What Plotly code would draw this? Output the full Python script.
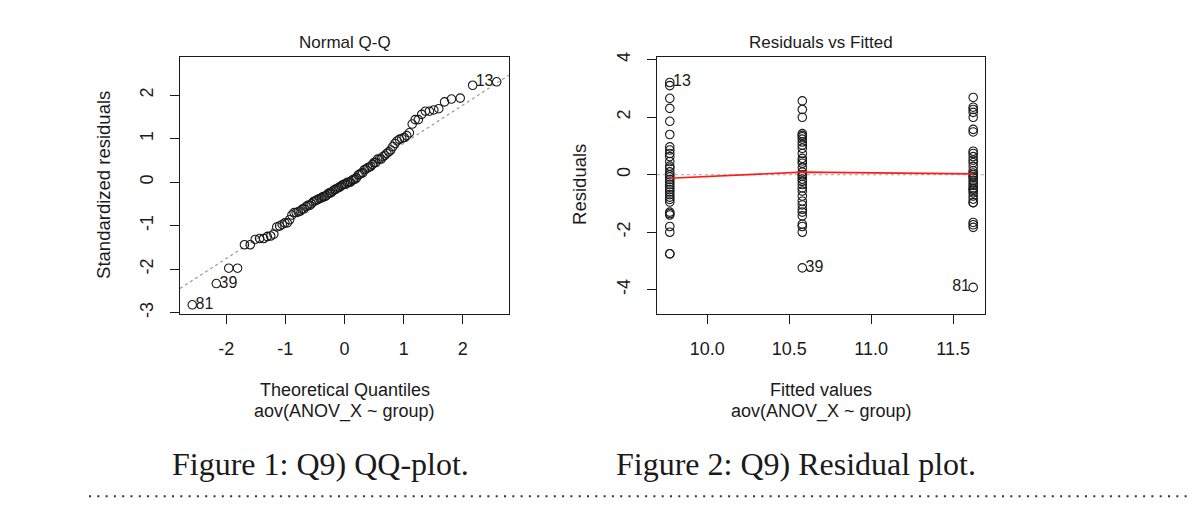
import numpy as np
import plotly.graph_objects as go
from statistics import NormalDist

# ---------------- data ----------------
fitted_levels = [9.772, 10.58, 11.622]          # group means (fitted values)
group_ids = ["13", "39", "81"]                   # labels of the extreme obs in each group

resid_g1 = [3.21, 3.10, 2.66, 2.31, 1.86, 1.40, 0.97, 0.86, 0.74, 0.63, 0.46,
            0.30, 0.23, 0.10, 0.0, -0.08, -0.17, -0.25, -0.34, -0.43, -0.52,
            -0.60, -0.69, -0.78, -0.86, -0.95, -1.30, -1.35, -1.40, -1.80,
            -2.0, -2.75, -2.75]
resid_g2 = [2.57, 2.27, 2.0, 1.43, 1.37, 1.32, 1.24, 1.14, 1.03, 0.92, 0.74,
            0.57, 0.48, 0.40, 0.25, 0.09, 0.0, -0.06, -0.15, -0.23, -0.34,
            -0.46, -0.57, -0.74, -0.92, -1.05, -1.20, -1.30, -1.43, -1.72,
            -1.80, -2.0, -3.24]
resid_g3 = [2.69, 2.35, 2.27, 2.17, 2.0, 1.58, 1.49, 0.82, 0.74, 0.63, 0.51,
            0.42, 0.29, 0.14, 0.06, 0.0, -0.06, -0.11, -0.20, -0.29, -0.37,
            -0.46, -0.50, -0.55, -0.63, -0.74, -0.85, -0.97, -0.97, -1.66,
            -1.74, -1.83, -3.92]
lowess_y = [-0.12, 0.09, 0.03]                   # red smoother at each fitted level

qq_xticks = [-2, -1, 0, 1, 2]
qq_xlabels = ["-2", "-1", "0", "1", "2"]
qq_yticks = [-3, -2, -1, 0, 1, 2]
qq_ylabels = ["-3", "-2", "-1", "0", "1", "2"]
rf_xticks = [10.0, 10.5, 11.0, 11.5]
rf_xlabels = ["10.0", "10.5", "11.0", "11.5"]
rf_yticks = [-4, -2, 0, 2, 4]
rf_ylabels = ["-4", "-2", "0", "2", "4"]

# ---------------- derived statistics ----------------
groups = [resid_g1, resid_g2, resid_g3]
fitted = np.concatenate([[f] * len(g) for f, g in zip(fitted_levels, groups)])
resid = np.concatenate([np.array(g, float) for g in groups])
gidx = np.concatenate([[i] * len(g) for i, g in enumerate(groups)])
n = len(resid)
p = len(groups)
s = np.sqrt(np.sum(resid ** 2) / (n - p))
hat = np.array([1.0 / len(groups[i]) for i in gidx])
std_resid = resid / (s * np.sqrt(1 - hat))

nd = NormalDist()
ppts = (np.arange(1, n + 1) - 0.5) / n
theo_sorted = np.array([nd.inv_cdf(v) for v in ppts])
order = np.argsort(std_resid)
theo = np.empty(n)
theo[order] = theo_sorted

# qqline through quartiles
yq = np.quantile(std_resid, [0.25, 0.75])
xq = np.array([nd.inv_cdf(0.25), nd.inv_cdf(0.75)])
slope = (yq[1] - yq[0]) / (xq[1] - xq[0])
intercept = yq[0] - slope * xq[0]

# extreme points (3 largest |std resid|)
ext = np.argsort(-np.abs(std_resid))[:3]

# ---------------- figure ----------------
# the page body has an 8px margin: lay out in page pixels, offset by it
OX, OY = 8, 8
W, H = 1192, 507
SANS = "Liberation Sans, Arial, sans-serif"
SERIF = "Liberation Serif, Times New Roman, serif"
BLACK = "#1a1a1a"

def px(x):
    return (x - OX) / W

def py(y):
    return 1 - (y - OY) / H

qq_xr = [-2.78, 2.78]
qq_yr = [-3.02, 2.874]
rf_xr = [9.694, 11.694]
rf_yr = [-4.83, 4.09]

fig = go.Figure()

marker = dict(symbol="circle-open", size=8.5, color=BLACK, line=dict(width=1.1, color=BLACK))

def lab(i, right):
    t = group_ids[gidx[i]]
    return "\u2009" + t if right else t + "\u2009"

# QQ plot
qline_x = np.array(qq_xr)
fig.add_trace(go.Scatter(x=qline_x, y=intercept + slope * qline_x, mode="lines",
                         line=dict(color="#9a9a9a", width=1.2, dash="3px,3px"),
                         xaxis="x", yaxis="y", hoverinfo="skip"))
fig.add_trace(go.Scatter(x=theo, y=std_resid, mode="markers", marker=marker,
                         xaxis="x", yaxis="y"))
qq_right = [theo[i] < 0 for i in ext]
fig.add_trace(go.Scatter(x=theo[ext], y=std_resid[ext], mode="text",
                         text=[lab(i, r) for i, r in zip(ext, qq_right)],
                         textposition=["middle right" if r else "middle left" for r in qq_right],
                         textfont=dict(family=SANS, size=16, color=BLACK),
                         xaxis="x", yaxis="y"))

# Residuals vs fitted
fig.add_trace(go.Scatter(x=rf_xr, y=[0, 0], mode="lines",
                         line=dict(color="#a8a8a8", width=1.2, dash="3px,3px"),
                         xaxis="x2", yaxis="y2", hoverinfo="skip"))
fig.add_trace(go.Scatter(x=fitted, y=resid, mode="markers", marker=marker,
                         xaxis="x2", yaxis="y2"))
fig.add_trace(go.Scatter(x=fitted_levels, y=lowess_y, mode="lines",
                         line=dict(color="#ff1a1a", width=1.6),
                         xaxis="x2", yaxis="y2"))
mean_fit = fitted.mean()
rf_right = [fitted[i] < mean_fit for i in ext]
fig.add_trace(go.Scatter(x=fitted[ext], y=resid[ext], mode="text",
                         text=[lab(i, r) for i, r in zip(ext, rf_right)],
                         textposition=["middle right" if r else "middle left" for r in rf_right],
                         textfont=dict(family=SANS, size=16, color=BLACK),
                         xaxis="x2", yaxis="y2"))

axis_common = dict(showline=True, mirror=True, linecolor=BLACK, linewidth=1.2,
                   ticks="outside", ticklen=9, tickwidth=1.2, tickcolor=BLACK,
                   showgrid=False, zeroline=False, ticklabelstandoff=10,
                   tickfont=dict(family=SANS, size=18, color=BLACK))

fig.update_layout(
    width=W, height=H, autosize=False,
    margin=dict(l=0, r=0, t=0, b=0),
    paper_bgcolor="white", plot_bgcolor="white",
    showlegend=False,
    xaxis=dict(domain=[px(180), px(509)], range=qq_xr, tickvals=qq_xticks,
               ticktext=qq_xlabels, anchor="y", **axis_common),
    yaxis=dict(domain=[py(314), py(53)], range=qq_yr, tickvals=qq_yticks,
               ticktext=qq_ylabels, tickangle=-90, anchor="x", **axis_common),
    xaxis2=dict(domain=[px(657), px(985)], range=rf_xr, tickvals=rf_xticks,
                ticktext=rf_xlabels, anchor="y2", **axis_common),
    yaxis2=dict(domain=[py(314), py(53)], range=rf_yr, tickvals=rf_yticks,
                ticktext=rf_ylabels, tickangle=-90, anchor="x2", **axis_common),
)

def note(text, x, y, size=18, angle=0, family=SANS):
    fig.add_annotation(text=text, x=px(x), y=py(y), xref="paper", yref="paper",
                       showarrow=False, xanchor="center", yanchor="middle",
                       textangle=angle, font=dict(family=family, size=size, color=BLACK))

note("Normal Q-Q", 344.5, 38, size=17)
note("Residuals vs Fitted", 821, 38, size=17)
note("Theoretical Quantiles", 344.5, 392)
note("aov(ANOV_X ~ group)", 344.5, 413.5)
note("Fitted values", 821, 392)
note("aov(ANOV_X ~ group)", 821, 413.5)
note("Standardized residuals", 104, 183, size=18.5, angle=-90)
note("Residuals", 580, 183, size=18.5, angle=-90)
note("Figure 1: Q9) QQ-plot.", 320, 467, size=32, family=SERIF)
note("Figure 2: Q9) Residual plot.", 796, 467, size=32, family=SERIF)

fig.add_shape(type="line", xref="paper", yref="paper",
              x0=px(89), x1=1.0, y0=py(500), y1=py(500),
              line=dict(color="#333333", width=2, dash="2px,6.3px"))

fig.write_html("out.html")
